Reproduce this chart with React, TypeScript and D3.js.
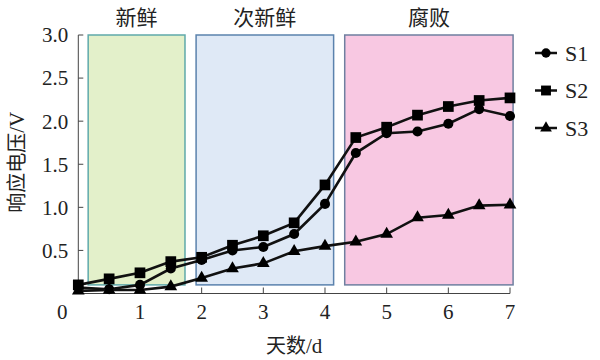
import React from 'react';
import * as d3 from 'd3';

// days on the x axis
const days = [0, 0.5, 1, 1.5, 2, 2.5, 3, 3.5, 4, 4.5, 5, 5.5, 6, 6.5, 7];

// response voltage (V) for each sensor
const s1 = [0.07, 0.05, 0.1, 0.29, 0.39, 0.5, 0.54, 0.69, 1.04, 1.63, 1.86, 1.88, 1.97, 2.14, 2.06];
const s2 = [0.1, 0.17, 0.24, 0.37, 0.42, 0.56, 0.67, 0.82, 1.26, 1.81, 1.93, 2.07, 2.17, 2.24, 2.27];
const s3 = [0.03, 0.04, 0.04, 0.08, 0.18, 0.29, 0.35, 0.49, 0.55, 0.6, 0.69, 0.88, 0.91, 1.02, 1.03];

const seriesNames = ['S1', 'S2', 'S3'];

// freshness stages (in days)
const stageNames = ['新鲜', '次新鲜', '腐败'];
const stageStart = [0.16, 1.91, 4.32];
const stageEnd = [1.73, 4.14, 7.05];
const stageFill = ['#e3f0ca', '#dfe9f6', '#f8c8e2'];
const stageStroke = ['#5fa9aa', '#5b82ad', '#6f7fa0'];

const xTicks = [1, 2, 3, 4, 5, 6, 7];
const yTicks = [0.5, 1.0, 1.5, 2.0, 2.5, 3.0];

const width = 600;
const height = 360;

const x = d3.scaleLinear().domain([0, 7]).range([78.3, 510]);
const y = d3.scaleLinear().domain([0, 3]).range([293.5, 35]);

const symbols = [d3.symbolCircle, d3.symbolSquare, d3.symbolTriangle];
const symbolSizes = [80, 115, 70];

const serifFont = "'Liberation Serif', serif";
const cjkFont = "'Noto Sans CJK SC', sans-serif";

export default function App() {
  const all = [s1, s2, s3];
  const line = d3.line<number>()
    .x((d, i) => x(days[i]))
    .y(d => y(d));

  const y0 = y(0);
  const yTop = y(3);

  return (
    <svg width={width} height={height}
      style={{ position: 'absolute', left: 0, top: 0, background: '#fff' }}>
      {/* stage boxes */}
      {stageNames.map((name, i) => (
        <g key={name}>
          <rect x={x(stageStart[i])} y={yTop}
            width={x(stageEnd[i]) - x(stageStart[i])}
            height={y(0.1) - yTop}
            fill={stageFill[i]} stroke={stageStroke[i]} strokeWidth={1.5} />
          <text x={(x(stageStart[i]) + x(stageEnd[i])) / 2} y={16}
            textAnchor="middle" dominantBaseline="central"
            fontFamily={cjkFont} fontSize={21} fill="#222">{name}</text>
        </g>
      ))}

      {/* axes */}
      <line x1={x(0)} x2={x(0)} y1={yTop} y2={y0} stroke="#444" strokeWidth={1} />
      <line x1={x(0)} x2={x(7)} y1={y0} y2={y0} stroke="#444" strokeWidth={1} />
      <g fontFamily={serifFont} fontSize={21} fill="#222">
        {yTicks.map(t => (
          <g key={'y' + t}>
            <line x1={x(0)} x2={x(0) + 5} y1={y(t)} y2={y(t)} stroke="#444" />
            <text x={x(0) - 10} y={y(t)} dy="0.35em" textAnchor="end">{t.toFixed(1)}</text>
          </g>
        ))}
        {xTicks.map(t => (
          <g key={'x' + t}>
            <line x1={x(t)} x2={x(t)} y1={y0} y2={y0 - 6} stroke="#444" />
            <text x={x(t)} y={312} dy="0.35em" textAnchor="middle">{t}</text>
          </g>
        ))}
        <text x={x(0) - 16} y={312} dy="0.35em" textAnchor="middle">0</text>
      </g>

      {/* axis titles */}
      <text x={(x(0) + x(7)) / 2} y={346} dy="0.35em" textAnchor="middle"
        fontSize={20} fill="#222">
        <tspan fontFamily={cjkFont}>天数</tspan>
        <tspan fontFamily={serifFont} fontSize={21}>/d</tspan>
      </text>
      <text transform={`translate(17, ${(yTop + y0) / 2 - 2}) rotate(-90)`} dy="0.35em"
        textAnchor="middle" fontSize={20} fill="#222">
        <tspan fontFamily={cjkFont}>响应电压</tspan>
        <tspan fontFamily={serifFont} fontSize={21}>/V</tspan>
      </text>

      {/* series */}
      {all.map((vals, si) => (
        <g key={seriesNames[si]}>
          <path d={line(vals) || ''} fill="none" stroke="#111" strokeWidth={2.6} />
          {vals.map((v, i) => (
            <path key={i} transform={`translate(${x(days[i])},${y(v)})`}
              d={d3.symbol().type(symbols[si]).size(symbolSizes[si])() || ''}
              fill="#000" />
          ))}
        </g>
      ))}

      {/* legend */}
      {seriesNames.map((name, i) => {
        const ly = 53 + i * 37.5;
        return (
          <g key={'lg' + name}>
            <line x1={535} x2={557} y1={ly} y2={ly} stroke="#111" strokeWidth={2.5} />
            <path transform={`translate(546,${ly})`}
              d={d3.symbol().type(symbols[i]).size(symbolSizes[i] * 0.85)() || ''}
              fill="#000" />
            <text x={565} y={ly} dy="0.35em" fontFamily={serifFont} fontSize={22} fill="#222">{name}</text>
          </g>
        );
      })}
    </svg>
  );
}
